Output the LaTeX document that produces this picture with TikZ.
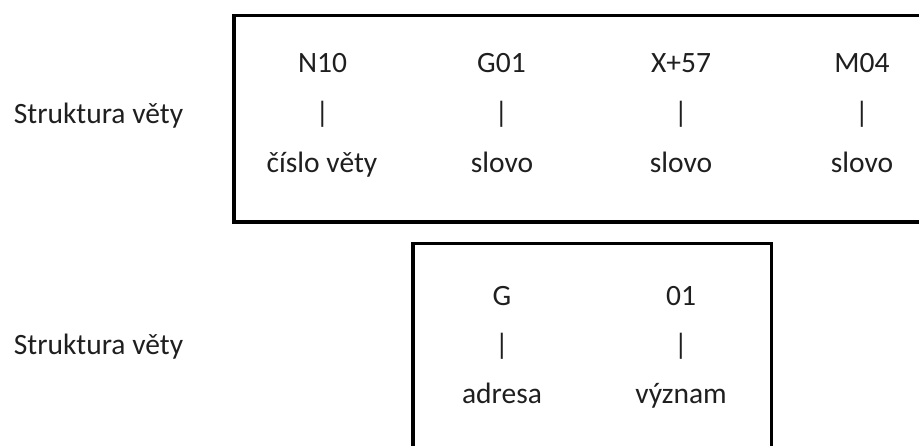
\documentclass[tikz,border=0pt]{standalone}
\usepackage{fontspec}
\setmainfont{Carlito}
\begin{document}
\begin{tikzpicture}[x=1pt,y=-1pt,
  txt/.style={anchor=base,inner sep=0pt,font=\fontsize{29.5}{35}\selectfont,text=black!88},
  frame/.style={draw=black,line width=3.5pt}]
\useasboundingbox (0,0) rectangle (919,445);
\path[frame] (935,15.5) -- (234,15.5) -- (234,222) -- (935,222);
\path[frame] (413,460) -- (413,243.5) -- (771.5,243.5) -- (771.5,460);
\node[txt] (s1) at (98.5,123) {Struktura věty};
\node[txt] (s2) at (98.5,354) {Struktura věty};
\node[txt] (a1) at (322.5,72) {N10};
\node[txt] (a2) at (322.5,122) {|};
\node[txt] (a3) at (322,172) {číslo věty};
\node[txt] (b1) at (501.5,72) {G01};
\node[txt] (b2) at (501.5,122) {|};
\node[txt] (b3) at (502,172) {slovo};
\node[txt] (c1) at (681,72) {X+57};
\node[txt] (c2) at (681,122) {|};
\node[txt] (c3) at (681,172) {slovo};
\node[txt] (d1) at (862,72) {M04};
\node[txt] (d2) at (862,122) {|};
\node[txt] (d3) at (862,172) {slovo};
\node[txt] (e1) at (502,305) {G};
\node[txt] (e2) at (502,354) {|};
\node[txt] (e3) at (502,403) {adresa};
\node[txt] (f1) at (681,305) {01};
\node[txt] (f2) at (681,354) {|};
\node[txt] (f3) at (681,403) {význam};
\end{tikzpicture}
\end{document}
